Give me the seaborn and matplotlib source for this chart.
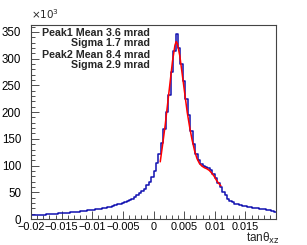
import numpy as np
import pandas as pd
import seaborn as sns
import matplotlib
matplotlib.use("Agg")
import matplotlib.pyplot as plt
import matplotlib.transforms as mtransforms
from matplotlib.ticker import MultipleLocator, FuncFormatter

# histogram: 100 bins from -0.02 to 0.02, counts in thousands
x_min, x_max, n_bins = -0.02, 0.02, 100
counts_k = [
    7.0, 7.2, 7.5, 7.7, 8.0, 8.3, 8.6, 8.9, 9.2, 9.6,
    10.0, 10.4, 10.8, 11.2, 11.6, 12.0, 12.5, 13.0, 13.5, 14.0,
    14.5, 15.0, 15.5, 16.0, 16.7, 17.4, 18.1, 18.8, 19.5, 20.3,
    21.0, 22.0, 23.0, 24.5, 26.0, 27.5, 29.0, 30.5, 31.5, 33.0,
    35.0, 38.0, 41.0, 44.0, 48.0, 52.0, 57.0, 63.0, 70.0, 79.0,
    90.0, 104.0, 122.0, 142.0, 168.0, 200.0, 232.0, 275.0, 315.0, 346.0,
    320.0, 290.0, 258.0, 225.0, 195.0, 165.0, 140.0, 122.0, 110.0, 103.0,
    99.0, 97.0, 95.0, 91.0, 85.0, 77.0, 68.0, 59.0, 51.0, 44.0,
    38.0, 34.0, 31.0, 29.0, 27.5, 26.0, 25.0, 24.0, 23.0, 22.2,
    21.5, 20.8, 20.2, 19.6, 19.0, 18.3, 17.5, 16.5, 15.2, 14.0,
]

# double gaussian fit curve (red)
fit_x = [0.0011, 0.0015, 0.0019, 0.0023, 0.0027, 0.0031, 0.0035, 0.0037, 0.0039,
         0.0043, 0.0047, 0.0051, 0.0055, 0.0059, 0.0063, 0.0067, 0.0071, 0.0075,
         0.0079, 0.0083, 0.0087, 0.0091, 0.0095, 0.0099, 0.0103, 0.0107, 0.0110]
fit_k = [107, 140, 175, 215, 255, 295, 325, 332, 328,
         305, 270, 235, 200, 172, 148, 128, 113, 104,
         99, 96, 94, 91, 86, 80, 72, 66, 62]

fit_text = ["Peak1 Mean 3.6 mrad", "Sigma 1.7 mrad",
            "Peak2 Mean 8.4 mrad", "Sigma 2.9 mrad"]

edges = np.linspace(x_min, x_max, n_bins + 1)
centers = (edges[:-1] + edges[1:]) / 2
hist = pd.DataFrame({"x": centers, "w": np.array(counts_k) * 1000})
fit = pd.DataFrame({"x": fit_x, "y": np.array(fit_k) * 1000})

sns.set_style("ticks")
plt.rcParams["font.family"] = ["Liberation Sans", "DejaVu Sans"]

fig = plt.figure(figsize=(3.07, 2.45), dpi=100)
ax = fig.add_axes([31 / 307, 1 - 219 / 245, 245 / 307, 194 / 245])

sns.histplot(data=hist, x="x", weights="w", bins=n_bins,
             binrange=(x_min, x_max), element="step",
             fill=False, color="#1010b0", linewidth=1.1, ax=ax)
sns.lineplot(data=fit, x="x", y="y", color="red", linewidth=1.1, ax=ax)

ax.set_xlim(x_min, x_max)
ax.set_ylim(0, 363000)
ax.set_xlabel("")
ax.set_ylabel("")

# ROOT-like axes: inward ticks only on bottom/left
ax.xaxis.set_major_locator(MultipleLocator(0.005))
ax.xaxis.set_minor_locator(MultipleLocator(0.001))
ax.yaxis.set_major_locator(MultipleLocator(50000))
ax.yaxis.set_minor_locator(MultipleLocator(10000))
ax.tick_params(which="both", direction="in", top=False, right=False,
               colors="#333333", labelcolor="black", width=0.6)
ax.tick_params(which="major", length=6)
ax.tick_params(which="minor", length=3)
ax.tick_params(axis="x", labelsize=7.8, pad=2.5)
ax.tick_params(axis="y", labelsize=8.3, pad=7)


def xfmt(v, pos):
    if abs(v) < 1e-9:
        return "0"
    if v > 0.0199:
        return ""
    s = ("%.3f" % v).rstrip("0")
    return s.replace("-", "\u2212")


ax.xaxis.set_major_formatter(FuncFormatter(xfmt))
ax.yaxis.set_major_formatter(FuncFormatter(lambda v, p: "%d" % round(v / 1000)))
for s in ax.spines.values():
    s.set_linewidth(0.8)
    s.set_color("#444444")

# nudge the y "0" up a little so it clears the x labels
fig.canvas.draw()
zero_lab = ax.yaxis.get_major_ticks()[0].label1
zero_lab.set_transform(zero_lab.get_transform() +
                       mtransforms.ScaledTranslation(0, 3 / 100, fig.dpi_scale_trans))

fig.text(31 / 307, 1 - 19 / 245, r"$\times10^{3}$", fontsize=7.5, ha="left",
         va="baseline")
fig.text(280 / 307, 1 - 242 / 245, "tan\u03b8$_{\\mathrm{xz}}$", fontsize=8.5,
         ha="right", va="baseline")

for i, line in enumerate(fit_text):
    fig.text(150 / 307, 1 - (32.5 + 11 * i) / 245, line, fontsize=7.7,
             fontweight="bold", ha="right", va="center")

fig.savefig("out.png", dpi=100)
